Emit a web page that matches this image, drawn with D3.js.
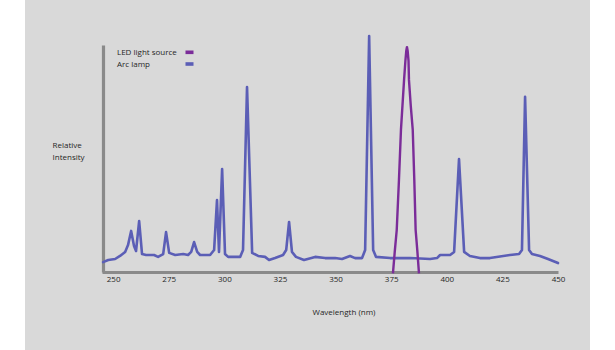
<!DOCTYPE html>
<html>
<head>
<meta charset="utf-8">
<script src="https://cdn.jsdelivr.net/npm/d3@7"></script>
<style>
  html, body { margin: 0; padding: 0; background: #ffffff; }
  svg { display: block; }
  text { font-family: "Open Sans", "Noto Sans", sans-serif; fill: #262626; }
</style>
</head>
<body>
<svg id="chart" width="615" height="350"></svg>
<script>
// Arc lamp emission spectrum: wavelength (nm) and relative intensity (0-100)
const arcWavelength = [245.5, 247.8, 250.9, 253.1, 255.4, 256.7, 258.1, 259.4, 260.3, 261.7,
  263.0, 264.8, 268.4, 270.2, 272.5, 273.8, 275.2, 277.9, 281.5, 283.7,
  285.1, 286.4, 287.8, 289.1, 293.6, 295.4, 296.7, 297.6, 299.0, 300.3,
  301.7, 307.1, 308.4, 310.2, 312.5, 315.2, 318.3, 320.1, 322.8, 326.4,
  327.8, 329.1, 330.4, 332.2, 335.8, 340.8, 345.3, 349.8, 352.9, 356.5,
  358.8, 361.9, 363.3, 365.1, 366.9, 368.2, 374.5, 383.5, 392.5, 395.6,
  397.0, 401.5, 403.3, 405.5, 407.8, 410.4, 414.9, 419.4, 423.9, 428.4,
  432.5, 433.8, 435.2, 437.0, 438.3, 441.9, 445.5, 450.0];
const arcIntensity = [4.2, 5.1, 5.5, 6.8, 8.5, 11.4, 17.4, 11.0, 8.9, 21.6,
  7.6, 7.2, 7.2, 6.4, 7.6, 16.9, 8.1, 7.2, 7.6, 7.2,
  8.5, 12.7, 8.5, 7.2, 7.2, 9.3, 30.5, 8.5, 43.6, 7.6,
  6.4, 6.4, 9.3, 78.4, 8.1, 6.8, 6.4, 5.1, 5.9, 7.2,
  9.3, 21.2, 8.5, 6.4, 5.1, 6.4, 5.9, 5.9, 5.5, 6.8,
  5.9, 5.9, 9.3, 100, 9.3, 6.4, 5.9, 5.9, 5.5, 5.9,
  7.2, 7.2, 8.5, 47.9, 8.5, 6.8, 5.9, 5.9, 6.6, 7.2,
  7.6, 9.3, 74.2, 9.3, 7.6, 6.8, 5.5, 3.8];

// LED light source: narrow band around 382 nm
const ledWavelength = [375.8, 376.6, 377.5, 378.5, 379.4, 380.8, 381.4, 381.8, 382.1, 382.4, 382.8, 383.0, 383.8, 384.7, 385.4, 386.0, 386.8, 387.5];
const ledIntensity  = [-0.6, 8.5, 17.8, 39.0, 60.2, 81.4, 89.5, 93.8, 95.3, 93.8, 89.5, 81.4, 70.5, 60.2, 39.0, 17.8, 8.5, -0.6];

const xTicks = [250, 275, 300, 325, 350, 375, 400, 425, 450];

const seriesNames  = ["LED light source", "Arc lamp"];
const seriesColors = ["#7b2c99", "#5b5eb6"];

const svg = d3.select("#chart");

// grey panel
svg.append("rect")
  .attr("x", 25).attr("y", 0)
  .attr("width", 565).attr("height", 350)
  .attr("fill", "#d9d9d9");

const x = d3.scaleLinear().domain([245, 450]).range([102, 558]);
const y = d3.scaleLinear().domain([0, 100]).range([272, 36]);
const yFrame = y.copy().domain([0, 96.2]).range([272, 45]);

// axes
const xAxis = svg.append("g")
  .attr("transform", `translate(0,${y(0)})`)
  .call(d3.axisBottom(x).tickValues(xTicks).tickSize(0).tickSizeOuter(0).tickPadding(4));
xAxis.select(".domain").attr("stroke", "#8a8a8a").attr("stroke-width", 3);
xAxis.selectAll(".tick text")
  .style("font-family", "'Open Sans', sans-serif")
  .attr("font-size", 8)
  .attr("fill", "#262626");

const yAxis = svg.append("g")
  .attr("transform", `translate(${x(245) + 1},0)`)
  .call(d3.axisLeft(yFrame).tickValues([]).tickSizeOuter(0));
yAxis.select(".domain").attr("stroke", "#8a8a8a").attr("stroke-width", 3.2);

// spectra
const arcData = arcWavelength.map((w, i) => [w, arcIntensity[i]]);
const ledData = ledWavelength.map((w, i) => [w, ledIntensity[i]]);

const line = d3.line().x(d => x(d[0])).y(d => y(d[1])).curve(d3.curveLinear);

svg.append("path")
  .datum(arcData)
  .attr("d", line)
  .attr("fill", "none")
  .attr("stroke", seriesColors[1])
  .attr("stroke-width", 2.6)
  .attr("stroke-linejoin", "round")
  .attr("stroke-linecap", "round");

svg.append("path")
  .datum(ledData)
  .attr("d", line)
  .attr("fill", "none")
  .attr("stroke", seriesColors[0])
  .attr("stroke-width", 2.4)
  .attr("stroke-linejoin", "round");

// legend
const legend = svg.append("g").attr("transform", "translate(117,52.5)");
seriesNames.forEach((name, i) => {
  const g = legend.append("g").attr("transform", `translate(0,${i * 11.7})`);
  g.append("text")
    .attr("x", 0).attr("y", 0)
    .attr("dy", "0.35em")
    .attr("font-size", 8)
    .text(name);
  g.append("rect")
    .attr("x", 68.5).attr("y", -2)
    .attr("width", 8).attr("height", 3.6)
    .attr("fill", seriesColors[i]);
});

// axis titles
svg.append("text")
  .attr("x", 52.5).attr("y", 145).attr("dy", "0.35em")
  .attr("font-size", 8)
  .text("Relative");
svg.append("text")
  .attr("x", 52.5).attr("y", 157).attr("dy", "0.35em")
  .attr("font-size", 8)
  .text("Intensity");

svg.append("text")
  .attr("x", 344).attr("y", 312.5).attr("dy", "0.35em")
  .attr("text-anchor", "middle")
  .attr("font-size", 8)
  .text("Wavelength (nm)");
</script>
</body>
</html>
